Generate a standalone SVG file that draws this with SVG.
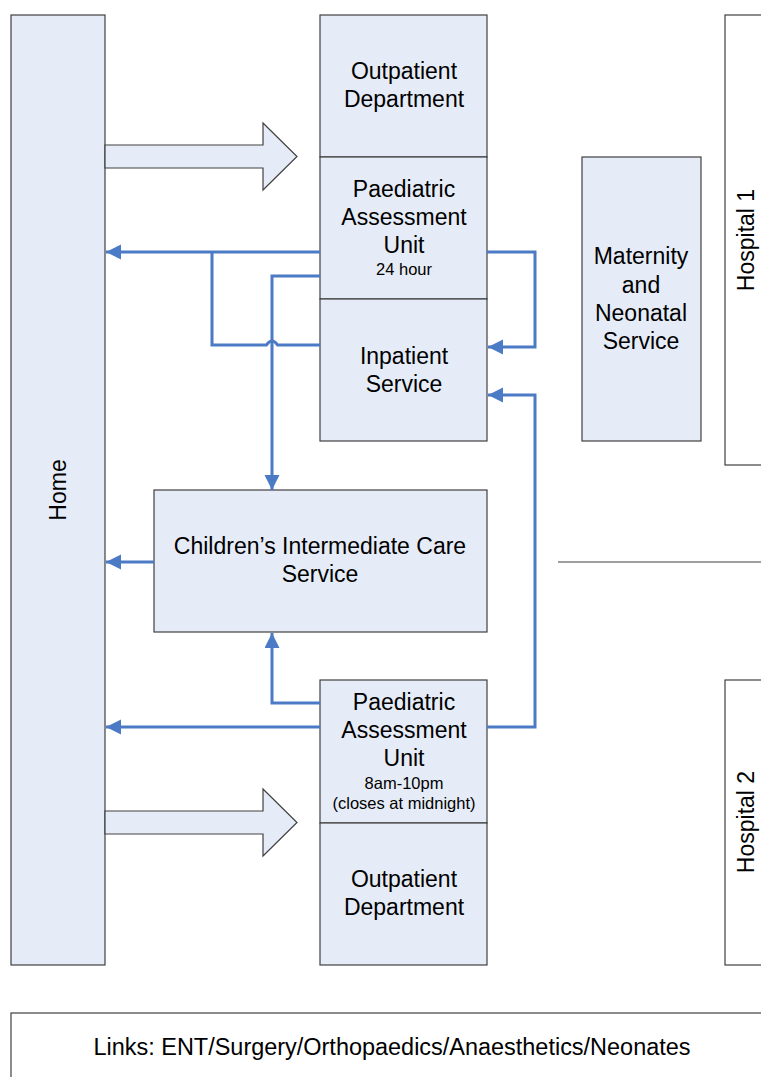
<svg xmlns="http://www.w3.org/2000/svg" width="761" height="1077" viewBox="0 0 761 1077">
<style>
.box{fill:#E6ECF7;stroke:#404040;stroke-width:1.2}
.wbox{fill:#FFFFFF;stroke:#404040;stroke-width:1.2}
.t{font-family:"Liberation Sans",Arial,sans-serif;font-size:23px;fill:#000;text-anchor:middle}
.s{font-family:"Liberation Sans",Arial,sans-serif;font-size:16.5px;fill:#000;text-anchor:middle}
.c{fill:none;stroke:#4A7BC4;stroke-width:3;stroke-linejoin:miter}
</style>
<defs>
<marker id="ah" markerUnits="userSpaceOnUse" markerWidth="16" markerHeight="16" refX="15" refY="7.5" orient="auto">
<path d="M0,0 L15,7.5 L0,15 z" fill="#4A7BC4"/>
</marker>
</defs>
<rect width="761" height="1077" fill="#FFFFFF"/>
<g id="hospital1"><rect class="wbox" x="725" y="15" width="40" height="450"/><text class="t" transform="translate(754,240) rotate(-90)">Hospital 1</text></g>
<g id="hospital2"><rect class="wbox" x="725" y="680" width="40" height="285"/><text class="t" transform="translate(754,822) rotate(-90)">Hospital 2</text></g>
<g id="separator"><line x1="558" y1="562" x2="761" y2="562" stroke="#404040" stroke-width="1.2"/></g>
<g id="links"><rect class="wbox" x="11" y="1013" width="760" height="80"/><text class="t" x="392" y="1055" font-size="21" textLength="597" lengthAdjust="spacingAndGlyphs">Links: ENT/Surgery/Orthopaedics/Anaesthetics/Neonates</text></g>
<g id="home"><rect class="box" x="11" y="15" width="94" height="950"/><text class="t" transform="translate(66,490) rotate(-90)">Home</text></g>
<g id="arrow-top"><polygon class="box" points="105,145 263,145 263,123 297,156.5 263,190 263,168 105,168"/></g>
<g id="arrow-bottom"><polygon class="box" points="105,811 263,811 263,789 297,822.5 263,856 263,834 105,834"/></g>
<g id="outpatient1"><rect class="box" x="320" y="15" width="167" height="142"/><text class="t"><tspan x="404" y="79">Outpatient</tspan><tspan x="404" y="107">Department</tspan></text></g>
<g id="pau1"><rect class="box" x="320" y="157" width="167" height="142"/><text class="t"><tspan x="404" y="197">Paediatric</tspan><tspan x="404" y="225">Assessment</tspan><tspan x="404" y="253">Unit</tspan></text><text class="s" x="404" y="275">24 hour</text></g>
<g id="inpatient"><rect class="box" x="320" y="299" width="167" height="142"/><text class="t"><tspan x="404" y="364">Inpatient</tspan><tspan x="404" y="392">Service</tspan></text></g>
<g id="maternity"><rect class="box" x="582" y="157" width="119" height="284"/><text class="t"><tspan x="641" y="264">Maternity</tspan><tspan x="641" y="293">and</tspan><tspan x="641" y="321">Neonatal</tspan><tspan x="641" y="349">Service</tspan></text></g>
<g id="intermediate"><rect class="box" x="154" y="490" width="333" height="142"/><text class="t"><tspan x="320" y="554">Children’s Intermediate Care</tspan><tspan x="320" y="582">Service</tspan></text></g>
<g id="pau2"><rect class="box" x="320" y="680" width="167" height="143"/><text class="t"><tspan x="404" y="710">Paediatric</tspan><tspan x="404" y="738">Assessment</tspan><tspan x="404" y="766">Unit</tspan></text><text class="s"><tspan x="404" y="789">8am-10pm</tspan><tspan x="404" y="809">(closes at midnight)</tspan></text></g>
<g id="outpatient2"><rect class="box" x="320" y="823" width="167" height="142"/><text class="t"><tspan x="404" y="887">Outpatient</tspan><tspan x="404" y="915">Department</tspan></text></g>
<g id="connectors">
<path class="c" d="M320,252 H106" marker-end="url(#ah)"/>
<path class="c" d="M320,345 H277.5 Q272,337 266.5,345 H212 V252"/>
<path class="c" d="M320,276 H272 V490" marker-end="url(#ah)"/>
<path class="c" d="M487,252 H535 V347 H488" marker-end="url(#ah)"/>
<path class="c" d="M487,727 H535 V395 H488" marker-end="url(#ah)"/>
<path class="c" d="M154,562 H106" marker-end="url(#ah)"/>
<path class="c" d="M320,703 H272 V633" marker-end="url(#ah)"/>
<path class="c" d="M320,727 H106" marker-end="url(#ah)"/>
</g>
</svg>
